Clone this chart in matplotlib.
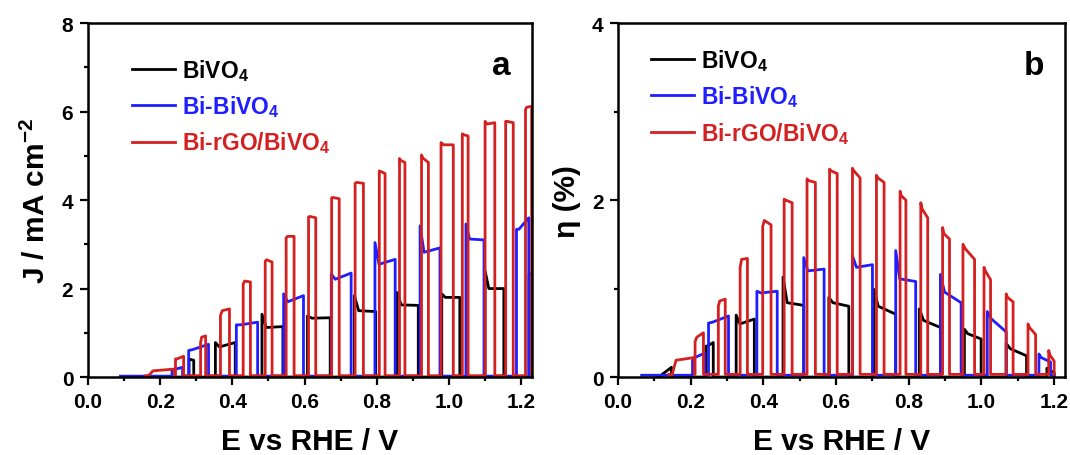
import matplotlib
matplotlib.use('Agg')
import matplotlib.pyplot as plt
from matplotlib.ticker import MultipleLocator, FormatStrFormatter

plt.rcParams['font.family'] = ['Liberation Sans', 'DejaVu Sans']
plt.rcParams['font.weight'] = 'bold'
plt.rcParams['mathtext.fontset'] = 'custom'
plt.rcParams['mathtext.rm'] = 'Liberation Sans:bold'
plt.rcParams['mathtext.bf'] = 'Liberation Sans:bold'
plt.rcParams['mathtext.default'] = 'bf'

labels = ['BiVO$_4$', 'Bi-BiVO$_4$', 'Bi-rGO/BiVO$_4$']
colors = ['#000000', '#1e1eff', '#d42020']

# ---- panel a: chopped-light photocurrent (mA cm-2) ----
# each pulse: light on, light off, current at switch-on, plateau, current at switch-off
a_black_span = (0.10, 1.235)
a_black_on = [0.280, 0.353, 0.482, 0.608, 0.738, 0.856, 0.980, 1.100, 1.222]
a_black_off = [0.293, 0.408, 0.540, 0.671, 0.797, 0.915, 1.030, 1.152, 1.240]
a_black_spike = [0.41, 0.78, 1.42, 1.38, 1.84, 1.91, 1.88, 2.40, 2.33]
a_black_plat = [0.40, 0.68, 1.12, 1.33, 1.50, 1.63, 1.80, 2.00, 2.33]
a_black_end = [0.38, 0.78, 1.14, 1.34, 1.48, 1.62, 1.80, 2.00, 2.33]

a_blue_span = (0.09, 1.235)
a_blue_on = [0.233, 0.279, 0.411, 0.542, 0.674, 0.795, 0.920, 1.047, 1.187]
a_blue_off = [0.262, 0.334, 0.470, 0.597, 0.729, 0.851, 0.975, 1.097, 1.221]
a_blue_spike = [0.15, 0.60, 1.18, 1.88, 2.33, 3.04, 3.42, 3.46, 3.34]
a_blue_plat = [0.17, 0.62, 1.18, 1.70, 2.21, 2.55, 2.82, 3.12, 3.34]
a_blue_end = [0.22, 0.74, 1.24, 1.84, 2.35, 2.66, 2.92, 3.10, 3.60]

a_red_span = (0.16, 1.235)
a_red_on = [0.165, 0.2425, 0.312, 0.367, 0.430, 0.491, 0.549, 0.611, 0.675,
            0.740, 0.807, 0.863, 0.924, 0.978, 1.037, 1.100, 1.157, 1.212]
a_red_off = [0.240, 0.265, 0.326, 0.392, 0.450, 0.510, 0.571, 0.631, 0.696,
             0.763, 0.823, 0.878, 0.943, 1.012, 1.053, 1.127, 1.178, 1.229]
a_red_spike = [0.00, 0.41, 0.78, 1.39, 2.10, 2.62, 3.15, 3.62, 4.05,
               4.38, 4.66, 4.94, 5.02, 5.30, 5.50, 5.78, 5.78, 6.05]
a_red_plat = [0.14, 0.41, 0.90, 1.50, 2.17, 2.65, 3.18, 3.63, 4.06,
              4.40, 4.65, 4.90, 4.95, 5.25, 5.48, 5.72, 5.78, 6.10]
a_red_end = [0.18, 0.47, 0.93, 1.54, 2.15, 2.60, 3.18, 3.60, 4.03,
             4.38, 4.60, 4.85, 4.85, 5.25, 5.45, 5.75, 5.75, 6.12]

# ---- panel b: photoconversion efficiency (%) ----
b_black_span = (0.105, 1.20)
b_black_on = [0.115, 0.242, 0.325, 0.454, 0.580, 0.704, 0.829, 0.953, 1.068, 1.180]
b_black_off = [0.147, 0.262, 0.375, 0.511, 0.635, 0.764, 0.887, 0.999, 1.124, 1.200]
b_black_spike = [0.00, 0.35, 0.70, 1.13, 0.90, 0.99, 0.77, 0.54, 0.38, 0.10]
b_black_plat = [0.03, 0.35, 0.60, 0.84, 0.84, 0.80, 0.64, 0.49, 0.32, 0.08]
b_black_end = [0.11, 0.39, 0.655, 0.81, 0.80, 0.71, 0.56, 0.43, 0.24, 0.05]

b_blue_span = (0.065, 1.20)
b_blue_on = [0.205, 0.249, 0.382, 0.511, 0.645, 0.764, 0.887, 1.016, 1.158]
b_blue_off = [0.238, 0.304, 0.438, 0.567, 0.700, 0.819, 0.944, 1.068, 1.190]
b_blue_spike = [0.19, 0.61, 0.97, 1.35, 1.37, 1.43, 1.16, 0.74, 0.26]
b_blue_plat = [0.22, 0.62, 0.95, 1.20, 1.24, 1.11, 0.96, 0.66, 0.22]
b_blue_end = [0.27, 0.69, 0.97, 1.22, 1.27, 1.08, 0.84, 0.51, 0.17]

b_red_span = (0.14, 1.20)
b_red_on = [0.147, 0.212, 0.276, 0.336, 0.398, 0.457, 0.520, 0.582, 0.645,
            0.711, 0.776, 0.833, 0.893, 0.949, 1.007, 1.068, 1.128, 1.185]
b_red_off = [0.210, 0.235, 0.295, 0.356, 0.421, 0.479, 0.543, 0.603, 0.666,
             0.732, 0.792, 0.852, 0.912, 0.981, 1.025, 1.087, 1.149, 1.200]
b_red_spike = [0.00, 0.40, 0.80, 1.24, 1.70, 2.01, 2.24, 2.35, 2.36,
               2.28, 2.10, 1.97, 1.69, 1.50, 1.24, 0.94, 0.60, 0.30]
b_red_plat = [0.19, 0.45, 0.86, 1.33, 1.77, 2.00, 2.22, 2.33, 2.33,
              2.25, 2.05, 1.90, 1.62, 1.45, 1.20, 0.90, 0.56, 0.25]
b_red_end = [0.22, 0.50, 0.88, 1.34, 1.72, 1.97, 2.20, 2.30, 2.25,
             2.20, 2.00, 1.80, 1.56, 1.33, 1.10, 0.85, 0.48, 0.18]

dark = [0.0, 0.02, 0.03]


def chopped(span, on, off, spike, plat, end, base):
    xs, ys = [span[0]], [base]
    for t0, t1, s, p, e in zip(on, off, spike, plat, end):
        w = t1 - t0
        xs += [t0, t0, t0 + 0.2 * w, t1, t1]
        ys += [base, s, p, e, base]
    xs.append(span[1])
    ys.append(base)
    return xs, ys


panel_a = [
    (a_black_span, a_black_on, a_black_off, a_black_spike, a_black_plat, a_black_end),
    (a_blue_span, a_blue_on, a_blue_off, a_blue_spike, a_blue_plat, a_blue_end),
    (a_red_span, a_red_on, a_red_off, a_red_spike, a_red_plat, a_red_end),
]
panel_b = [
    (b_black_span, b_black_on, b_black_off, b_black_spike, b_black_plat, b_black_end),
    (b_blue_span, b_blue_on, b_blue_off, b_blue_spike, b_blue_plat, b_blue_end),
    (b_red_span, b_red_on, b_red_off, b_red_spike, b_red_plat, b_red_end),
]

fig = plt.figure(figsize=(10.7, 4.56), dpi=100)
ax_a = fig.add_axes([0.0822, 0.171, 0.4150, 0.776])
ax_b = fig.add_axes([0.5776, 0.171, 0.4178, 0.776])

setups = [
    (ax_a, panel_a, 8, 2, 'J / mA cm$^{-2}$', 'a', (0.078, 0.93)),
    (ax_b, panel_b, 4, 2, 'η (%)', 'b', (0.053, 0.958)),
]

for ax, series, ymax, ystep, ylab, tag, leg_pos in setups:
    handles = []
    for (span, on, off, sp, pl, en), col, lab, base in zip(series, colors, labels, dark):
        xs, ys = chopped(span, on, off, sp, pl, en, base)
        h, = ax.plot(xs, ys, color=col, lw=2.0, label=lab)
        handles.append(h)
    ax.set_xlim(0, 1.23)
    ax.set_ylim(0, ymax)
    ax.xaxis.set_major_locator(MultipleLocator(0.2))
    ax.xaxis.set_minor_locator(MultipleLocator(0.1))
    ax.yaxis.set_major_locator(MultipleLocator(ystep))
    ax.yaxis.set_minor_locator(MultipleLocator(ystep / 2))
    ax.xaxis.set_major_formatter(FormatStrFormatter('%.1f'))
    ax.tick_params(which='major', direction='out', length=5.5, width=1.6,
                   labelsize=15, pad=5)
    ax.tick_params(which='minor', direction='out', length=3, width=1.6)
    for sp_ in ax.spines.values():
        sp_.set_linewidth(1.8)
    ax.set_xlabel('E vs RHE / V', fontsize=21.5, fontweight='bold', labelpad=12)
    ax.set_ylabel(ylab, fontsize=21.5, fontweight='bold', labelpad=8)
    ax.text(0.93, 0.88, tag, transform=ax.transAxes, fontsize=24,
            fontweight='bold', ha='center', va='center')
    leg = ax.legend(handles=handles, loc='upper left', bbox_to_anchor=leg_pos,
                    frameon=False, fontsize=16.5, handlelength=1.9,
                    handletextpad=0.3, labelspacing=0.45, borderaxespad=0)
    for txt, col in zip(leg.get_texts(), colors):
        txt.set_color(col)

fig.savefig('out.png', dpi=100)
